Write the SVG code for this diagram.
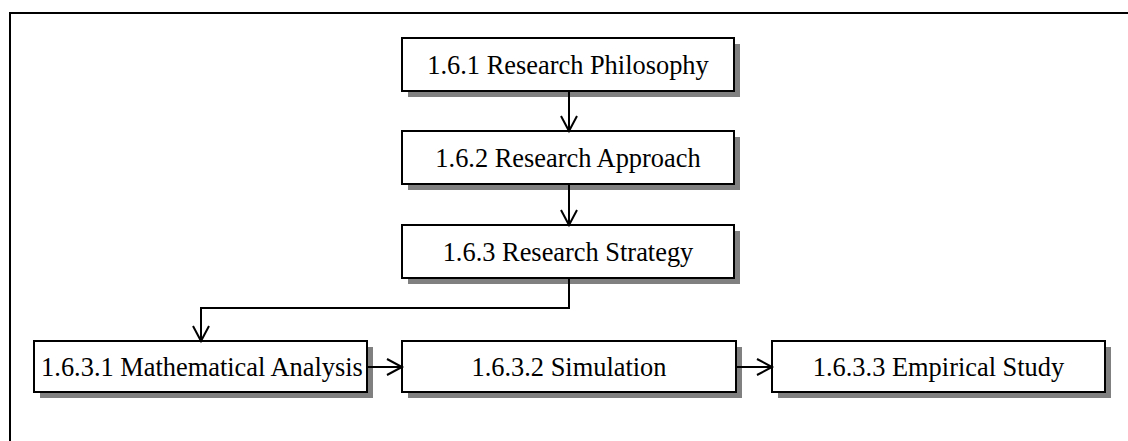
<svg xmlns="http://www.w3.org/2000/svg" width="1128" height="441" viewBox="0 0 1128 441">
  <style>
    .shadow { fill: #808080; stroke: none; }
    .box { fill: #ffffff; stroke: #000000; stroke-width: 2; }
    .label { font-family: "Liberation Serif", "Times New Roman", serif; font-size: 26.4px; fill: #000000; text-anchor: middle; }
    .link { fill: none; stroke: #000000; stroke-width: 2; marker-end: url(#arrow); }
    .frame { fill: none; stroke: #000000; stroke-width: 2; }
  </style>
  <defs>
    <marker id="arrow" markerUnits="userSpaceOnUse" markerWidth="18" markerHeight="20" viewBox="0 0 18 20" refX="16" refY="10" orient="auto" overflow="visible">
      <path d="M1,2 L16,10 L1,18" fill="none" stroke="#000000" stroke-width="2"/>
    </marker>
  </defs>

  <rect width="1128" height="441" fill="#ffffff"/>

  <!-- outer frame: top and left edges -->
  <path class="frame" d="M10,441 L10,13 L1128,13"/>

  <g id="node-philosophy">
    <rect class="shadow" x="408" y="44" width="332" height="53"/>
    <rect class="box" x="402" y="38" width="332" height="53"/>
    <text class="label" x="568" y="73.5">1.6.1 Research Philosophy</text>
  </g>

  <g id="node-approach">
    <rect class="shadow" x="408" y="137" width="332" height="53"/>
    <rect class="box" x="402" y="131" width="332" height="53"/>
    <text class="label" x="568" y="166.5">1.6.2 Research Approach</text>
  </g>

  <g id="node-strategy">
    <rect class="shadow" x="408" y="231" width="332" height="53"/>
    <rect class="box" x="402" y="225" width="332" height="53"/>
    <text class="label" x="568" y="260.5">1.6.3 Research Strategy</text>
  </g>

  <g id="node-mathematical">
    <rect class="shadow" x="40" y="347" width="333" height="51"/>
    <rect class="box" x="34" y="341" width="333" height="51"/>
    <text class="label" x="202" y="375.5">1.6.3.1 Mathematical Analysis</text>
  </g>

  <g id="node-simulation">
    <rect class="shadow" x="408" y="347" width="334" height="51"/>
    <rect class="box" x="402" y="341" width="334" height="51"/>
    <text class="label" x="569" y="375.5">1.6.3.2 Simulation</text>
  </g>

  <g id="node-empirical">
    <rect class="shadow" x="778" y="347" width="333" height="51"/>
    <rect class="box" x="772" y="341" width="333" height="51"/>
    <text class="label" x="938.5" y="375.5">1.6.3.3 Empirical Study</text>
  </g>

  <g id="connectors">
    <path class="link" d="M569,91 L569,131"/>
    <path class="link" d="M569,184 L569,225"/>
    <path class="link" d="M569,278 L569,308 L201,308 L201,341"/>
    <path class="link" d="M367,367 L402,367"/>
    <path class="link" d="M736,367 L772,367"/>
  </g>
</svg>
